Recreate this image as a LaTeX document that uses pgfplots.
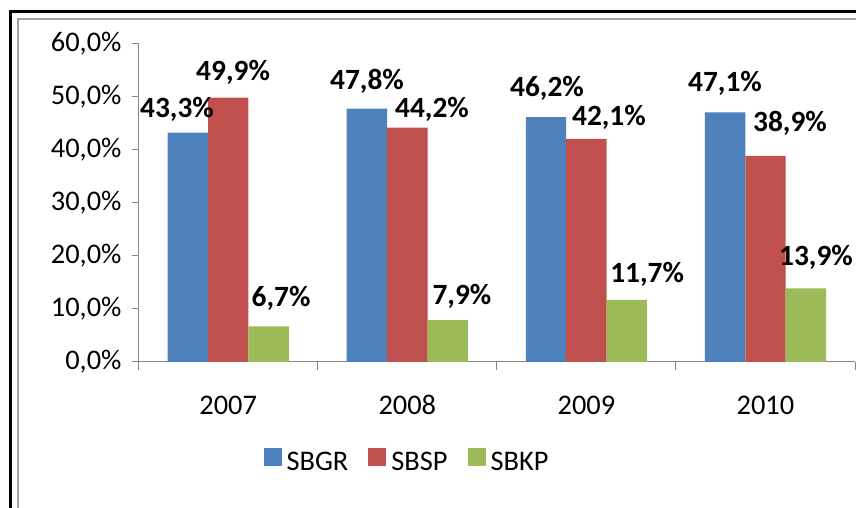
\documentclass[border=0pt]{standalone}
\usepackage{fontspec}
\setmainfont{Carlito}
\usepackage{pgfplots}
\pgfplotsset{compat=1.18}
\definecolor{cblue}{HTML}{4F81BD}
\definecolor{cred}{HTML}{C0504D}
\definecolor{cgreen}{HTML}{9BBB59}
\definecolor{axgray}{HTML}{868686}
\definecolor{framegray}{HTML}{A0A0A0}
\tikzset{lbl/.style={font=\bfseries\fontsize{29.5}{33}\selectfont, anchor=base, inner sep=0pt}}
\begin{document}
\begin{tikzpicture}[x=1bp,y=1bp]
\begin{scope}
\clip (0,0) rectangle (856,508);
\fill[white] (0,0) rectangle (856,508);
\draw[line width=2.8bp] (10.7,-50) -- (10.7,496.7) -- (950,496.7);
\draw[framegray,line width=1.8bp] (18.3,-50) -- (18.3,488.8) -- (950,488.8);
\end{scope}
\begin{axis}[
  at={(138.7bp,146bp)}, anchor=south west,
  scale only axis, width=716.3bp, height=318bp,
  ybar=0pt, bar width=40.4bp,
  xmin=-0.5, xmax=3.5, ymin=0, ymax=60,
  enlargelimits=false, clip=false,
  axis x line*=bottom, axis y line*=left,
  axis line style={axgray, line width=1bp, -},
  xtick={0,1,2,3}, xticklabels={2007,2008,2009,2010},
  major x tick style={draw=none},
  minor xtick={-0.5,0.5,1.5,2.5,3.5},
  minor x tick style={draw=axgray, line width=1bp},
  minor tick length=8bp,
  tick align=outside,
  ytick={0,10,20,30,40,50,60},
  yticklabels={{0,0\%},{10,0\%},{20,0\%},{30,0\%},{40,0\%},{50,0\%},{60,0\%}},
  major tick length=7bp,
  major y tick style={draw=axgray, line width=1bp},
  tick label style={font=\fontsize{28.5}{32}\selectfont, text=black},
  yticklabel style={inner xsep=0pt, xshift=-10bp},
  xticklabel style={anchor=base, yshift=-46bp},
  legend style={at={(0.3746,-0.311)}, anchor=center, draw=none, fill=none,
    font=\fontsize{28.5}{32}\selectfont,
    /tikz/every odd column/.append style={column sep=3bp},
    /tikz/every even column/.append style={column sep=18bp}},
  legend columns=3,
  legend image code/.code={\fill[#1] (0bp,-4bp) rectangle (18bp,14bp);},
]
\addplot[fill=cblue, draw=none] coordinates {(0,43.3) (1,47.8) (2,46.2) (3,47.1)};
\addplot[fill=cred, draw=none] coordinates {(0,49.9) (1,44.2) (2,42.1) (3,38.9)};
\addplot[fill=cgreen, draw=none] coordinates {(0,6.7) (1,7.9) (2,11.7) (3,13.9)};
\legend{SBGR,SBSP,SBKP}
\node[lbl] at (axis cs:-0.286,46.2) {43,3\%};
\node[lbl] at (axis cs:0.027,53.2) {49,9\%};
\node[lbl] at (axis cs:0.295,10.4) {6,7\%};
\node[lbl] at (axis cs:0.775,51.4) {47,8\%};
\node[lbl] at (axis cs:1.138,46.1) {44,2\%};
\node[lbl] at (axis cs:1.305,10.9) {7,9\%};
\node[lbl] at (axis cs:1.780,50.1) {46,2\%};
\node[lbl] at (axis cs:2.126,44.7) {42,1\%};
\node[lbl] at (axis cs:2.339,15.0) {11,7\%};
\node[lbl] at (axis cs:2.774,51.0) {47,1\%};
\node[lbl] at (axis cs:3.137,43.5) {38,9\%};
\node[lbl] at (axis cs:3.282,18.3) {13,9\%};
\end{axis}
\pgfresetboundingbox
\path[use as bounding box] (0,0) rectangle (856,508);
\end{tikzpicture}
\end{document}
